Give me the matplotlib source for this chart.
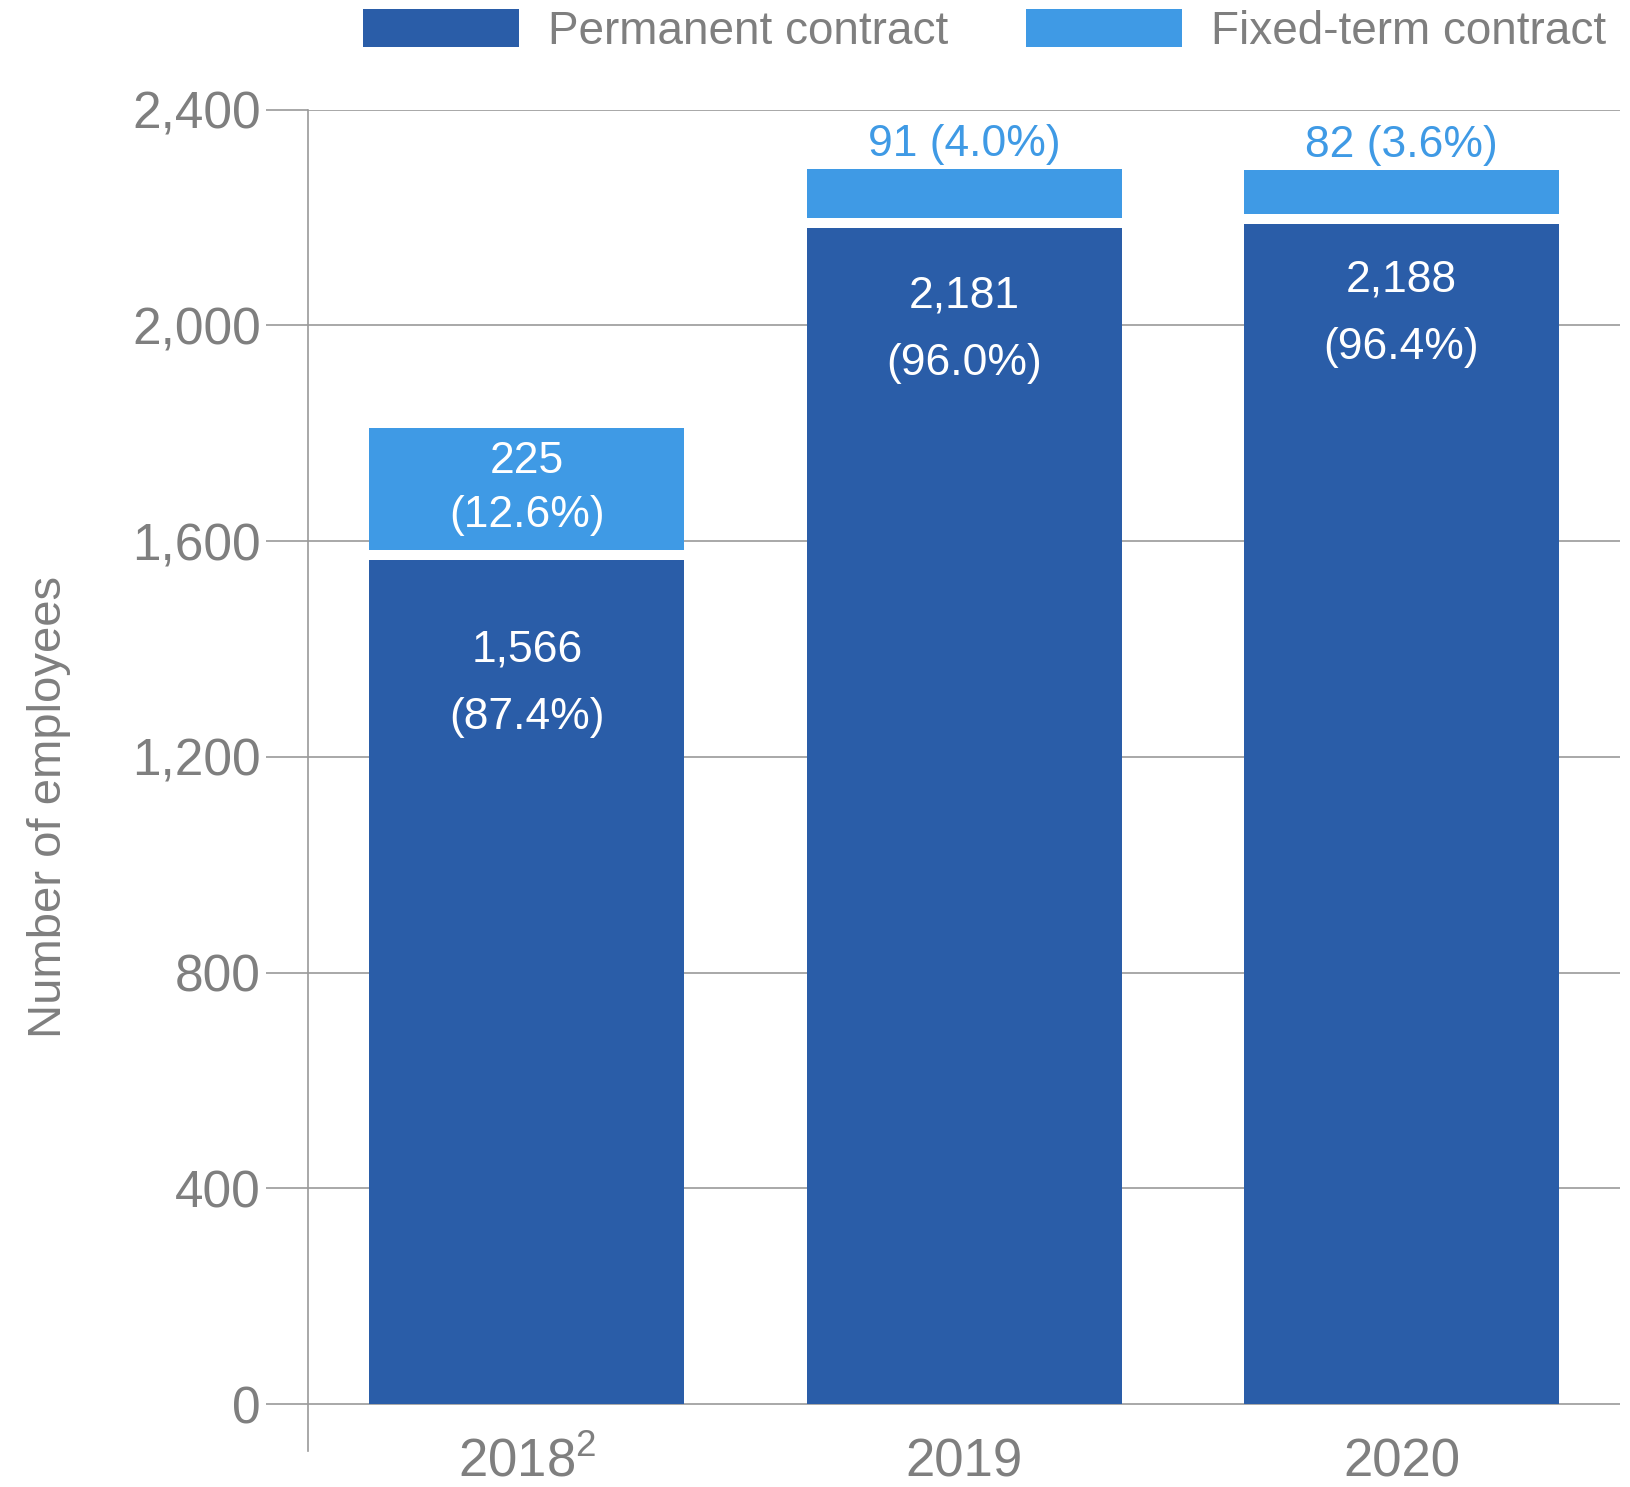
import numpy as np
import matplotlib.pyplot as plt

# data
years = ["2018$\\mathregular{^2}$", "2019", "2020"]
permanent = [1566, 2181, 2188]
fixed_term = [225, 91, 82]
perm_pct = ["(87.4%)", "(96.0%)", "(96.4%)"]
fixed_pct = ["(12.6%)", "(4.0%)", "(3.6%)"]
y_ticks = [0, 400, 800, 1200, 1600, 2000, 2400]

DARK = "#2A5DA8"
LIGHT = "#3F9AE5"
GREY = "#7F7F7F"
GRID = "#9A9A9A"

plt.rcParams['font.family'] = ['Liberation Sans', 'DejaVu Sans']
plt.rcParams['mathtext.fontset'] = 'custom'
plt.rcParams['mathtext.rm'] = 'Liberation Sans'

fig = plt.figure(figsize=(16.3, 14.87), dpi=100)
ax = fig.add_axes([0.189, 0.0242, 0.805, 0.902])

x = np.arange(len(years))
gap = 18  # white separator between the two segments
ax.bar(x, permanent, width=0.72, color=DARK, label="Permanent contract", zorder=3)
ax.bar(x, fixed_term, width=0.72, bottom=np.array(permanent) + gap, color=LIGHT,
       label="Fixed-term contract", zorder=3)

# labels inside the permanent bars
perm_offsets = [167, 127, 103]
for i, (v, p) in enumerate(zip(permanent, perm_pct)):
    top = v - perm_offsets[i]
    ax.text(i, top, f"{v:,}", ha='center', va='center', color='white', fontsize=32, zorder=4)
    ax.text(i, top - 125, p, ha='center', va='center', color='white', fontsize=32, zorder=4)

# fixed-term labels: inside for 2018, above for others
for i, (v, p) in enumerate(zip(fixed_term, fixed_pct)):
    top = permanent[i] + gap + v
    if v > 150:
        ax.text(i, top - 62, f"{v:,}", ha='center', va='center', color='white', fontsize=32, zorder=4)
        ax.text(i, top - 162, p, ha='center', va='center', color='white', fontsize=32, zorder=4)
    else:
        ax.text(i, top + 45, f"{v:,} {p}", ha='center', va='center', color=LIGHT, fontsize=32, zorder=4)

ax.set_xlim(-0.5, 2.5)
ax.set_ylim(-87, 2400)
ax.set_yticks(y_ticks)
ax.set_yticklabels([f"{t:,}" for t in y_ticks])
ax.yaxis.grid(True, color=GRID, linewidth=1.2, zorder=0)
ax.tick_params(axis='y', length=30, width=1.2, color=GRID, labelsize=37, labelcolor=GREY, pad=4)
ax.set_xticks(x)
ax.set_xticklabels(years)
ax.tick_params(axis='x', length=0, labelsize=38, labelcolor=GREY, pad=-10)

for s in ['top', 'right', 'bottom']:
    ax.spines[s].set_visible(False)
ax.spines['left'].set_color(GRID)
ax.spines['left'].set_linewidth(1.2)

ax.set_ylabel("Number of employees", fontsize=34, color=GREY)
ax.yaxis.set_label_coords(-0.181, 0.48)

fig.legend(loc='center left', bbox_to_anchor=(0.223, 0.979), ncol=2, frameon=False,
           prop={'size': 33}, labelcolor=GREY, handlelength=3.4, handleheight=0.92,
           handletextpad=0.63, columnspacing=1.7, borderpad=0, borderaxespad=0)

fig.savefig("out.png", dpi=100)
